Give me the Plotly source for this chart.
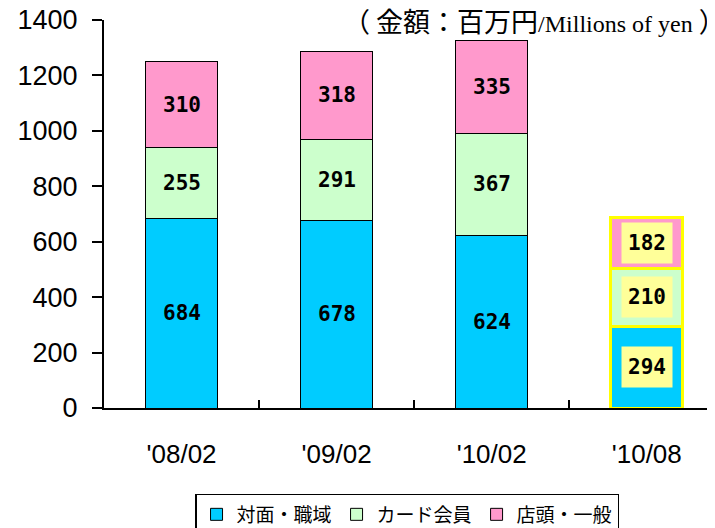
import plotly.graph_objects as go

categories = ["'08/02", "'09/02", "'10/02", "'10/08"]
series_names = ["対面・職域", "カード会員", "店頭・一般"]
face_to_face = [684, 678, 624, 294]
card_members = [255, 291, 367, 210]
storefront = [310, 318, 335, 182]
colors = ["#00CCFF", "#CCFFCC", "#FF99CC"]
y_ticks = [0, 200, 400, 600, 800, 1000, 1200, 1400]

series = [face_to_face, card_members, storefront]
edge_colors = ["black", "black", "black", "#FFFF00"]
edge_widths = [1, 1, 1, 3]

fig = go.Figure()
for name, vals, col in zip(series_names, series, colors):
    fig.add_trace(go.Bar(
        x=categories, y=vals, name=name,
        marker=dict(color=col, line=dict(color=edge_colors, width=edge_widths)),
        width=0.465,
    ))

label_font = dict(family="DejaVu Sans Mono", size=21, color="black")
bottoms = [0] * len(categories)
for vals in series:
    for i, v in enumerate(vals):
        mid = bottoms[i] + v / 2
        last = i == len(categories) - 1
        kw = dict(bgcolor="#FFFF99", width=50, height=40, borderpad=0) if last else {}
        fig.add_annotation(
            x=categories[i], y=mid, xref="x", yref="y",
            text="<b>" + str(v) + "</b>", showarrow=False,
            font=label_font, **kw,
        )
        bottoms[i] += v

fig.add_annotation(
    x=1.022, y=1.0, xref="paper", yref="paper", xanchor="right", yanchor="middle",
    text='（ 金額：百万円<span style="font-family:Liberation Serif;font-size:24px">/Millions of yen </span>）',
    showarrow=False, font=dict(family="Noto Sans CJK JP", size=27, color="black"),
)

fig.update_layout(
    barmode="stack",
    width=715, height=528,
    margin=dict(l=96, r=8, t=12, b=128, autoexpand=False),
    paper_bgcolor="white", plot_bgcolor="white",
    font=dict(family="Noto Sans CJK JP", color="black"),
    showlegend=True,
    legend=dict(
        orientation="h", x=0.149, xanchor="left", y=-0.2216, yanchor="top",
        bordercolor="black", borderwidth=1.5, traceorder="normal",
        font=dict(family="Noto Sans CJK JP", size=19, color="black"),
        itemwidth=30, tracegroupgap=0,
    ),
    bargap=0.535,
)
fig.update_xaxes(
    range=[-0.5, 3.44], showline=True, linecolor="black", linewidth=2,
    ticks="inside", tickson="boundaries", ticklen=8, tickcolor="black", tickwidth=1.5,
    tickfont=dict(family="Liberation Sans", size=26, color="black"),
    ticklabelstandoff=22, showgrid=False, zeroline=False,
)
fig.update_yaxes(
    range=[0, 1400], tickvals=y_ticks, showline=True, linecolor="black", linewidth=2,
    ticks="outside", ticklen=10, tickcolor="black", tickwidth=1.5,
    tickfont=dict(family="Liberation Sans", size=27, color="black"),
    ticklabelstandoff=9, ticklabeloverflow="allow", showgrid=False, zeroline=False,
)

fig.write_html("out.html")
